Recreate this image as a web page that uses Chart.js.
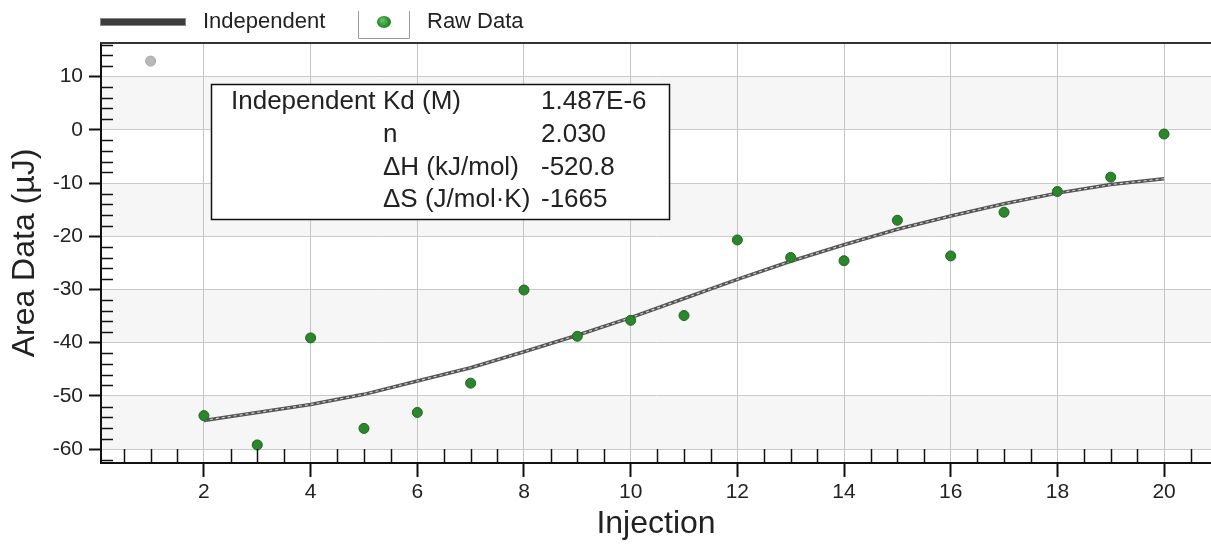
<!DOCTYPE html>
<html>
<head>
<meta charset="utf-8">
<script src="https://cdn.jsdelivr.net/npm/chart.js@4.4.1/dist/chart.umd.min.js"></script>
<style>
html,body{margin:0;padding:0;background:#fff;}
canvas{display:block;}
</style>
</head>
<body>
<canvas id="c" width="1211" height="545"></canvas>
<script>
// ---- data ----
const injections = [1,2,3,4,5,6,7,8,9,10,11,12,13,14,15,16,17,18,19,20];
const rawData = [12.9,-53.7,-59.2,-39.1,-56.1,-53.1,-47.6,-30.1,-38.8,-35.8,-34.9,-20.7,-24.0,-24.6,-17.0,-23.7,-15.5,-11.6,-8.9,-0.8];
const fitInjections = [2,3,4,5,6,7,8,9,10,11,12,13,14,15,16,17,18,19,20];
const fitData = [-54.6,-53.1,-51.6,-49.7,-47.2,-44.7,-41.7,-38.6,-35.3,-31.7,-28.1,-24.7,-21.6,-18.7,-16.2,-13.9,-11.9,-10.3,-9.2];
const xTickValues = [2,4,6,8,10,12,14,16,18,20];
const yTickValues = [10,0,-10,-20,-30,-40,-50,-60];
const legendLabels = ["Independent","Raw Data"];
const infoRows = [
  ["Independent","Kd (M)","1.487E-6"],
  ["","n","2.030"],
  ["","\u0394H (kJ/mol)","-520.8"],
  ["","\u0394S (J/mol\u00B7K)","-1665"]
];
const xTitle = "Injection";
const yTitle = "Area Data (\u00B5J)";

// ---- styling ----
const FONT = "'Liberation Sans', Arial, sans-serif";
const TEXT = "#222222";

const bandPlugin = {
  id: 'bands',
  beforeDraw(chart) {
    const {ctx, chartArea:a, scales:{y}} = chart;
    ctx.save();
    ctx.fillStyle = '#ffffff';
    ctx.fillRect(0,0,chart.width,chart.height);
    ctx.fillStyle = '#f6f6f6';
    for (let i = 0; i + 1 < yTickValues.length; i += 2) {
      const t = y.getPixelForValue(yTickValues[i]);
      const b = y.getPixelForValue(yTickValues[i+1]);
      ctx.fillRect(a.left, t, a.right - a.left, b - t);
    }
    ctx.restore();
  }
};

const decoPlugin = {
  id: 'deco',
  afterDraw(chart) {
    const {ctx, chartArea:a, scales:{x, y}} = chart;
    ctx.save();
    // minor ticks inside on x
    ctx.strokeStyle = '#111';
    ctx.lineWidth = 1.5;
    ctx.beginPath();
    for (let v = 0.5; v < x.max; v += 0.5) {
      if (v < x.min || Math.abs(v % 2) < 1e-9) continue;
      const px = Math.round(x.getPixelForValue(v)) + 0.5;
      ctx.moveTo(px, a.bottom);
      ctx.lineTo(px, a.bottom - 14);
    }
    // minor ticks inside on y
    for (let v = -62; v < y.max; v += 2) {
      if (v < y.min || v % 10 === 0) continue;
      const py = Math.round(y.getPixelForValue(v)) + 0.5;
      ctx.moveTo(a.left, py);
      ctx.lineTo(a.left + 12, py);
    }
    ctx.stroke();
    // top border
    ctx.strokeStyle = '#333';
    ctx.lineWidth = 2;
    ctx.beginPath();
    ctx.moveTo(a.left - 1, a.top);
    ctx.lineTo(chart.width, a.top);
    ctx.stroke();

    // legend
    ctx.fillStyle = '#3d3d3d';
    ctx.fillRect(100, 19, 86, 6);
    ctx.strokeStyle = '#888';
    ctx.lineWidth = 1;
    ctx.strokeRect(100.5, 18.5, 85, 7);
    ctx.fillStyle = TEXT;
    ctx.font = "22px " + FONT;
    ctx.textBaseline = 'middle';
    ctx.textAlign = 'left';
    ctx.fillText(legendLabels[0], 203, 22);
    ctx.strokeStyle = '#9a9a9a';
    ctx.beginPath();
    ctx.moveTo(358.5, 11); ctx.lineTo(358.5, 38.5); ctx.lineTo(409.5, 38.5); ctx.lineTo(409.5, 11);
    ctx.stroke();
    const g = ctx.createRadialGradient(382, 20, 1, 384, 22, 7);
    g.addColorStop(0, '#5cc45c'); g.addColorStop(1, '#1f7a1f');
    ctx.fillStyle = g;
    ctx.beginPath(); ctx.ellipse(384, 22, 7, 6, 0, 0, Math.PI*2); ctx.fill();
    ctx.fillStyle = TEXT;
    ctx.fillText(legendLabels[1], 427, 22);

    // info box
    ctx.fillStyle = '#ffffff';
    ctx.fillRect(211, 84, 459, 136);
    ctx.strokeStyle = '#111';
    ctx.lineWidth = 1.5;
    ctx.strokeRect(211.5, 84.5, 458, 135);
    ctx.fillStyle = TEXT;
    ctx.font = "26px " + FONT;
    const cols = [231, 383, 541];
    infoRows.forEach((r, i) => {
      const yy = 102 + i * 32.7;
      r.forEach((t, j) => { if (t) ctx.fillText(t, cols[j], yy); });
    });
    ctx.restore();
  }
};

const pointFill = c => c.dataIndex === 0 ? '#b9b9b9' : '#2c862c';
const pointEdge = c => c.dataIndex === 0 ? '#a8a8a8' : '#1d661d';

new Chart(document.getElementById('c'), {
  type: 'scatter',
  data: {
    datasets: [
      {
        label: legendLabels[1],
        data: injections.map((v, i) => ({x: v, y: rawData[i]})),
        pointRadius: 5,
        pointBackgroundColor: pointFill,
        pointBorderColor: pointEdge,
        pointBorderWidth: 1,
        order: 0
      },
      {
        label: legendLabels[0] + ' highlight',
        type: 'line',
        data: fitInjections.map((v, i) => ({x: v, y: fitData[i]})),
        borderColor: '#cfcfcf',
        borderWidth: 1.2,
        borderDash: [3, 3],
        pointRadius: 0,
        tension: 0,
        fill: false,
        order: 1
      },
      {
        label: legendLabels[0],
        type: 'line',
        data: fitInjections.map((v, i) => ({x: v, y: fitData[i]})),
        borderColor: '#555555',
        borderWidth: 3.5,
        pointRadius: 0,
        tension: 0,
        fill: false,
        order: 2
      }
    ]
  },
  options: {
    responsive: false,
    animation: false,
    events: [],
    layout: {autoPadding: false, padding: {top: 43, right: 0, left: 0, bottom: 0}},
    plugins: {legend: {display: false}, tooltip: {enabled: false}},
    scales: {
      x: {
        type: 'linear',
        min: 0.07,
        max: 20.88,
        afterBuildTicks: s => { s.ticks = xTickValues.map(v => ({value: v})); },
        afterFit: s => { s.height = 82; s.paddingLeft = 0; s.paddingRight = 0; },
        grid: {color: '#c4c4c4', lineWidth: 1, tickLength: 14, tickColor: '#111', tickWidth: 2, drawTicks: true},
        border: {color: '#111', width: 2},
        ticks: {font: {family: FONT, size: 21}, color: TEXT, padding: 3, maxRotation: 0, autoSkip: false},
        title: {display: true, text: xTitle, font: {family: FONT, size: 32}, color: TEXT, padding: {top: 0, bottom: 2}}
      },
      y: {
        type: 'linear',
        min: -62.6,
        max: 16.3,
        afterBuildTicks: s => { s.ticks = yTickValues.map(v => ({value: v})); },
        afterFit: s => { s.width = 101; s.paddingTop = 0; s.paddingBottom = 0; },
        grid: {color: '#cacaca', lineWidth: 1, tickLength: 12, tickColor: '#111', tickWidth: 2, drawTicks: true},
        border: {color: '#111', width: 2},
        ticks: {font: {family: FONT, size: 21}, color: TEXT, padding: 6, autoSkip: false},
        title: {display: true, text: yTitle, font: {family: FONT, size: 32}, color: TEXT, padding: {top: 6, bottom: 0}}
      }
    }
  },
  plugins: [bandPlugin, decoPlugin]
});
</script>
</body>
</html>
